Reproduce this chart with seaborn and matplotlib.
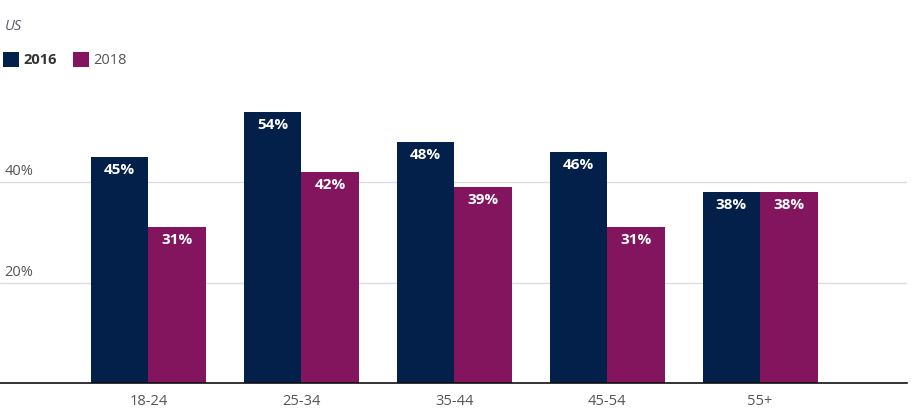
import matplotlib
matplotlib.use("Agg")
import matplotlib.pyplot as plt
import matplotlib.transforms as mtransforms
import seaborn as sns
import pandas as pd
from matplotlib.patches import Patch

categories = ["18-24", "25-34", "35-44", "45-54", "55+"]
years = ["2016", "2018"]
values_2016 = [45, 54, 48, 46, 38]
values_2018 = [31, 42, 39, 31, 38]
y_ticks = [20, 40]
y_tick_labels = ["20%", "40%"]
title = "US"

colors = {"2016": "#03204a", "2018": "#82155d"}

df = pd.DataFrame({
    "age": categories * 2,
    "year": ["2016"] * len(categories) + ["2018"] * len(categories),
    "value": values_2016 + values_2018,
})

sns.set_theme(style="white")
plt.rcParams["font.family"] = ["Open Sans", "DejaVu Sans"]

fig = plt.figure(figsize=(9.14, 4.18), dpi=100)
ax = fig.add_axes([0.0, 35 / 418, 907 / 914, (383 - 82) / 418])

sns.barplot(data=df, x="age", y="value", hue="year", hue_order=years,
            palette=colors, width=0.75, saturation=1, ax=ax, legend=False,
            errorbar=None, linewidth=0, edgecolor="none")

ax.set_xlim(-0.97, 4.96)
ax.set_ylim(0, 60)
ax.set_xlabel("")
ax.set_ylabel("")
ax.set_yticks([])
for s in ["top", "right", "left"]:
    ax.spines[s].set_visible(False)
ax.spines["bottom"].set_color("#111111")
ax.spines["bottom"].set_linewidth(1.2)
ax.tick_params(axis="x", length=0, labelsize=10.5, labelcolor="#555555", pad=8)

trans = mtransforms.blended_transform_factory(ax.transAxes, ax.transData)
for t, lab in zip(y_ticks, y_tick_labels):
    ax.axhline(t, color="#dddddd", linewidth=1, zorder=0)
    ax.text(0.005, t + 0.6, lab, transform=trans, ha="left", va="bottom",
            fontsize=10.5, color="#555555")

for cont in ax.containers:
    ax.bar_label(cont, fmt="%d%%", label_type="edge", padding=-14,
                 color="white", fontsize=11, fontweight="bold")

fig.text(5 / 914, 1 - 26 / 418, title, ha="left", va="center",
         fontsize=10.5, style="italic", color="#555a66")

handles = [Patch(facecolor=colors[y], edgecolor="none", label=y) for y in years]
leg = fig.legend(handles=handles, loc="center left",
                 bbox_to_anchor=(0.0, 1 - 60 / 418), ncol=2, frameon=False,
                 handlelength=1.1, handleheight=1.3, handletextpad=0.3,
                 columnspacing=1.1, borderpad=0, borderaxespad=0.2,
                 fontsize=10.5)
for i, txt in enumerate(leg.get_texts()):
    txt.set_color("#333333" if i == 0 else "#555555")
    if i == 0:
        txt.set_fontweight("bold")

fig.savefig("out.png", dpi=100)
